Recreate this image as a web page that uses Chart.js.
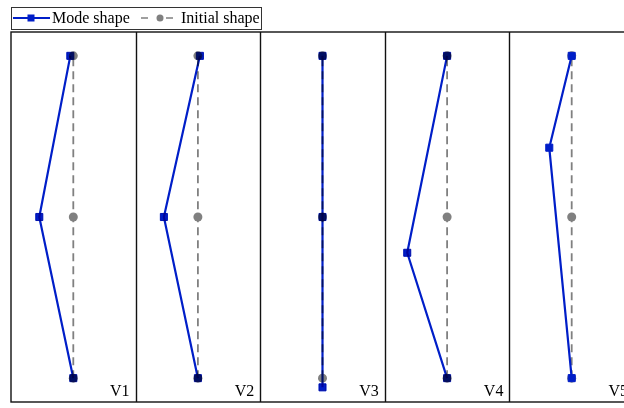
<!DOCTYPE html>
<html>
<head>
<meta charset="utf-8">
<script src="https://cdn.jsdelivr.net/npm/chart.js@4"></script>
<style>
  html, body { margin: 0; padding: 0; background: #fff; overflow: hidden; }
  #wrap { width: 640px; height: 408px; }
</style>
</head>
<body>
<div id="wrap"><canvas id="myChart" width="640" height="408"></canvas></div>
<script>
// data
const modeNames = ["V1", "V2", "V3", "V4", "V5"];
const nodeLevels = [0, 1, 2]; // bottom, middle, top node
// horizontal displacement of each node (panel widths)
const modeDx = [
  [0, -0.273, -0.024],
  [0, -0.273, 0.016],
  [0, 0, 0],
  [0, -0.32, 0],
  [0, -0.18, 0],
];
// vertical displacement of each node
const modeDy = [
  [0, 0, 0],
  [0, 0, 0],
  [-0.057, 0, 0],
  [0, -0.222, 0],
  [0, 0.43, 0],
];
const legendLabels = ["Mode shape", "Initial shape"];

const BLUE = "rgb(0,30,200)";
const GRAY = "rgb(128,128,128)";
const FONT = '16px "Liberation Serif", "Times New Roman", serif';

// build datasets, one pair per panel
const datasets = [];
modeNames.forEach((name, p) => {
  datasets.push({
    label: legendLabels[0],
    data: nodeLevels.map((y, k) => ({ x: p + 0.5 + modeDx[p][k], y: y + modeDy[p][k] })),
    showLine: true,
    borderColor: BLUE,
    backgroundColor: BLUE,
    borderWidth: 2.2,
    pointStyle: "rect",
    pointRadius: 5,
    pointBorderWidth: 1,
    order: 0,
    blend: p < 4 ? "multiply" : "source-over",
  });
  datasets.push({
    label: legendLabels[1],
    data: nodeLevels.map((y) => ({ x: p + 0.5, y: y })),
    showLine: true,
    borderColor: GRAY,
    backgroundColor: GRAY,
    borderWidth: 1.8,
    borderDash: [8, 5],
    pointStyle: "circle",
    pointRadius: 4.5,
    pointBorderWidth: 0,
    order: 1,
  });
});

// panel frames, V labels and the legend box
const panelPlugin = {
  id: "panels",
  beforeDatasetsDraw(chart) {
    const ctx = chart.ctx;
    const xs = chart.scales.x;
    const a = chart.chartArea;
    ctx.save();
    ctx.strokeStyle = "#111";
    ctx.lineWidth = 1.4;
    ctx.strokeRect(a.left, a.top, a.right - a.left, a.bottom - a.top);
    for (let i = 1; i < modeNames.length; i++) {
      const x = Math.round(xs.getPixelForValue(i)) + 0.5;
      ctx.beginPath();
      ctx.moveTo(x, a.top);
      ctx.lineTo(x, a.bottom);
      ctx.stroke();
    }
    ctx.font = FONT;
    ctx.fillStyle = "#000";
    ctx.textAlign = "right";
    ctx.textBaseline = "alphabetic";
    modeNames.forEach((name, i) => {
      ctx.fillText(name, xs.getPixelForValue(i + 1) - 6, a.bottom - 6);
    });
    ctx.restore();
  },
  beforeDatasetDraw(chart, args) {
    const ds = chart.data.datasets[args.index];
    chart.ctx.save();
    if (ds.blend) chart.ctx.globalCompositeOperation = ds.blend;
  },
  afterDatasetDraw(chart) {
    chart.ctx.restore();
  },
  afterDraw(chart) {
    const ctx = chart.ctx;
    const a = chart.chartArea;
    ctx.save();
    const top = 7, bottom = 29, mid = 18;
    ctx.strokeStyle = "#333";
    ctx.lineWidth = 1;
    ctx.strokeRect(a.left + 0.5, top + 0.5, 250, bottom - top);
    // mode shape icon
    ctx.strokeStyle = BLUE;
    ctx.lineWidth = 2;
    ctx.beginPath();
    ctx.moveTo(a.left + 2, mid);
    ctx.lineTo(a.left + 39, mid);
    ctx.stroke();
    ctx.fillStyle = BLUE;
    ctx.fillRect(a.left + 16.5, mid - 3.5, 7, 7);
    // initial shape icon
    ctx.strokeStyle = GRAY;
    ctx.lineWidth = 1.5;
    ctx.beginPath();
    ctx.moveTo(a.left + 130, mid);
    ctx.lineTo(a.left + 137, mid);
    ctx.moveTo(a.left + 155, mid);
    ctx.lineTo(a.left + 162, mid);
    ctx.stroke();
    ctx.fillStyle = GRAY;
    ctx.beginPath();
    ctx.arc(a.left + 149, mid, 3.5, 0, Math.PI * 2);
    ctx.fill();
    ctx.font = FONT;
    ctx.fillStyle = "#000";
    ctx.textAlign = "left";
    ctx.textBaseline = "middle";
    ctx.fillText(legendLabels[0], a.left + 41, mid + 1);
    ctx.fillText(legendLabels[1], a.left + 170, mid + 1);
    ctx.restore();
  },
};

new Chart("myChart", {
  type: "scatter",
  data: { datasets: datasets },
  options: {
    responsive: false,
    animation: false,
    layout: { padding: { left: 11, top: 32, right: 6, bottom: 4 } },
    plugins: { legend: { display: false }, tooltip: { enabled: false } },
    scales: {
      x: { display: false, min: 0, max: 5 },
      y: { display: false, min: -0.148, max: 2.148 },
    },
  },
  plugins: [panelPlugin],
});
</script>
</body>
</html>
